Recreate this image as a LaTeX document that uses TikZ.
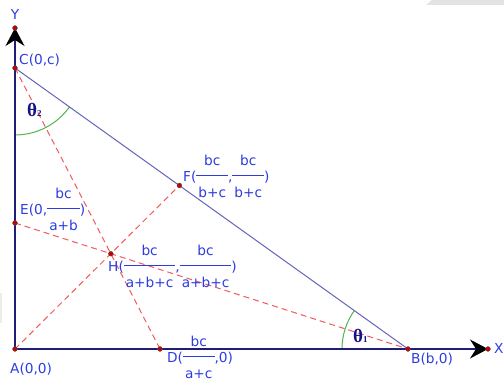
\documentclass[tikz,border=0pt]{standalone}
\usepackage{fontspec}
\setmainfont{DejaVu Sans}
\newfontfamily\thfont{Liberation Serif}
\usetikzlibrary{arrows.meta,calc}
\definecolor{lblue}{RGB}{45,60,225}
\definecolor{axisc}{RGB}{30,30,120}
\definecolor{hypc}{RGB}{100,100,185}
\definecolor{dashc}{RGB}{240,90,90}
\definecolor{arcc}{RGB}{80,180,80}
\definecolor{thc}{RGB}{20,20,130}
\definecolor{dotc}{RGB}{200,0,0}
\newcommand\myfrac[2]{%
  \begingroup
  \setbox0\hbox{#1}\setbox2\hbox{#2}%
  \dimen0=\wd0 \ifdim\wd2>\dimen0 \dimen0=\wd2 \fi
  \advance\dimen0 by 4pt
  \rlap{\raisebox{16.5pt}{\hbox to\dimen0{\hss\box0\hss}}}%
  \rlap{\raisebox{-16pt}{\hbox to\dimen0{\hss\box2\hss}}}%
  \rule[6.5pt]{\dimen0}{0.9pt}%
  \endgroup}
\begin{document}
\begin{tikzpicture}[x=1pt,y=1pt,
  lbl/.style={text=lblue,font=\fontsize{13.7}{15}\selectfont,inner sep=0pt,anchor=base west},
  thlbl/.style={text=thc,font=\thfont\bfseries\fontsize{19}{21}\selectfont,inner sep=0pt,anchor=base west},
  axisline/.style={draw=axisc,line width=1.4pt},
  axisarrow/.style={-{Stealth[length=18pt,width=19pt,inset=6pt,color=black]}},
  hyp/.style={draw=hypc,line width=1pt},
  dashline/.style={draw=dashc,line width=1pt,dash pattern=on 6pt off 4pt},
  anglearc/.style={draw=arcc,line width=1pt},
  dotpt/.style={fill=dotc,draw=black!70,line width=0.4pt}]
\useasboundingbox (0,0) rectangle (504,382);
% background marks
\fill[gray!22] (426,377) -- (432,382) -- (504,382) -- (504,377) -- cycle;
\fill[gray!15] (0,59) rectangle (2,89);
% points
\coordinate (A) at (15,33);
\coordinate (B) at (408,33);
\coordinate (C) at (15,314);
\coordinate (D) at (160,33);
\coordinate (E) at (15,159);
\coordinate (Yt) at (15,354);
\coordinate (Xt) at (488,33);
\coordinate (H) at (intersection of C--D and E--B);
\coordinate (F) at (intersection of A--H and C--B);
% angle arcs
\draw[anglearc] ($(C)+(-90:67)$) arc[start angle=-90,end angle=-35.56,radius=67];
\draw[anglearc] ($(B)+(180:66)$) arc[start angle=180,end angle=144.44,radius=66];
% dashed cevians
\draw[dashline] (C) -- (D);
\draw[dashline] (A) -- (F);
\draw[dashline] (E) -- (B);
% hypotenuse
\draw[hyp] (C) -- (B);
% axes
\draw[axisline,axisarrow] (A) -- (Yt);
\draw[axisline,axisarrow] (A) -- (Xt);
% dots
\foreach \p in {A,B,C,D,E,F,H,Yt,Xt}{\filldraw[dotpt] (\p) circle[radius=2.4pt];}
% labels
\node[lbl,anchor=base] (lY) at (15,362) {Y};
\node[lbl] (lX) at (494,28) {X};
\node[lbl] (lC) at (19,317) {C(0,c)};
\node[lbl] (lA) at (10,8) {A(0,0)};
\node[lbl] (lB) at (411,18) {B(b,0)};
\node[lbl] (lD) at (167,19) {D(\myfrac{bc}{a+c},0)};
\node[lbl] (lE) at (20,167) {E(0,\myfrac{bc}{a+b})};
\node[lbl] (lF) at (183,200) {F(\myfrac{bc}{b+c},\myfrac{bc}{b+c})};
\node[lbl] (lH) at (108,110) {H(\myfrac{bc}{a+b+c},\myfrac{bc}{a+b+c})};
\node[thlbl] (t2) at (27,265) {θ\raisebox{0pt}{\fontsize{9}{10}\selectfont 2}};
\node[thlbl] (t1) at (353,39) {θ\raisebox{0pt}{\fontsize{9}{10}\selectfont 1}};
\end{tikzpicture}
\end{document}
